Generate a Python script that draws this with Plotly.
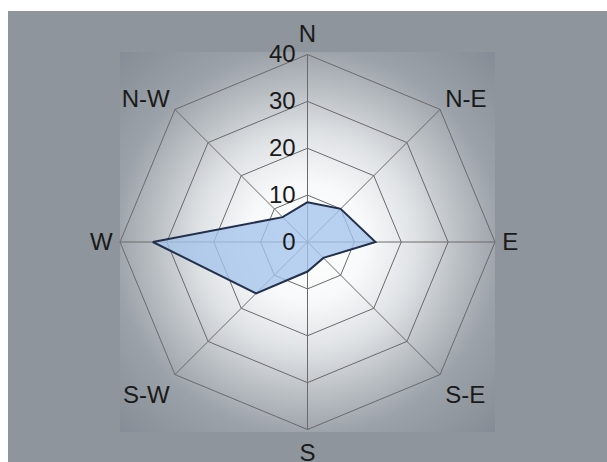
import base64
import plotly.graph_objects as go

directions = ["N", "N-E", "E", "S-E", "S", "S-W", "W", "N-W"]
values = [8.5, 10, 14.5, 4.8, 6.3, 15.5, 33, 7.5]
radial_ticks = [0, 10, 20, 30, 40]

W, H = 607, 462

svg = f"""<svg xmlns='http://www.w3.org/2000/svg' width='{W}' height='{H}' viewBox='0 0 {W} {H}'>
<defs><radialGradient id='g' cx='307' cy='242' r='268' gradientUnits='userSpaceOnUse'>
<stop offset='0' stop-color='#ffffff'/>
<stop offset='0.22' stop-color='#f8f9fa'/>
<stop offset='0.4' stop-color='#e0e3e6'/>
<stop offset='0.57' stop-color='#babfc4'/>
<stop offset='0.72' stop-color='#9ca2a9'/>
<stop offset='1' stop-color='#858c95'/>
</radialGradient></defs>
<rect width='{W}' height='{H}' fill='#ffffff'/>
<rect x='8' y='11' width='{W-8}' height='{H-11}' fill='#8e959c'/>
<rect x='120' y='52' width='375' height='380' fill='url(#g)'/>
</svg>"""
src = "data:image/svg+xml;base64," + base64.b64encode(svg.encode()).decode()

fig = go.Figure()
fig.add_trace(go.Scatterpolar(
    r=values + values[:1],
    theta=directions + directions[:1],
    mode="lines",
    fill="toself",
    fillcolor="rgba(165,196,236,0.78)",
    line=dict(color="#22304c", width=2),
    hoverinfo="skip",
))

fig.update_layout(
    width=W, height=H,
    margin=dict(l=0, r=0, t=0, b=0),
    paper_bgcolor="#ffffff",
    showlegend=False,
    font=dict(family="Liberation Sans, Arial, sans-serif", color="#1a1a1a"),
    images=[dict(source=src, xref="paper", yref="paper", x=0, y=1,
                 sizex=1, sizey=1, xanchor="left", yanchor="top",
                 sizing="stretch", layer="below")],
    polar=dict(
        domain=dict(x=[120 / W, 495 / W], y=[30 / H, 410 / H]),
        bgcolor="rgba(0,0,0,0)",
        gridshape="linear",
        radialaxis=dict(
            range=[0, 40], tickvals=radial_ticks,
            ticktext=[str(v) for v in radial_ticks],
            angle=90, side="counterclockwise", tickangle=90,
            showline=False, ticks="outside", ticklen=3,
            tickcolor="rgba(0,0,0,0)",
            gridcolor="#6a6a6a", gridwidth=1,
            tickfont=dict(size=24, color="#1a1a1a"),
        ),
        angularaxis=dict(
            categoryorder="array", categoryarray=directions,
            rotation=90, direction="clockwise",
            showline=True, linecolor="#6a6a6a", linewidth=1,
            gridcolor="#6a6a6a", gridwidth=1,
            ticks="outside", ticklen=2, tickcolor="rgba(0,0,0,0)",
            tickfont=dict(size=24, color="#1a1a1a"),
        ),
    ),
)

fig.write_html("out.html")
